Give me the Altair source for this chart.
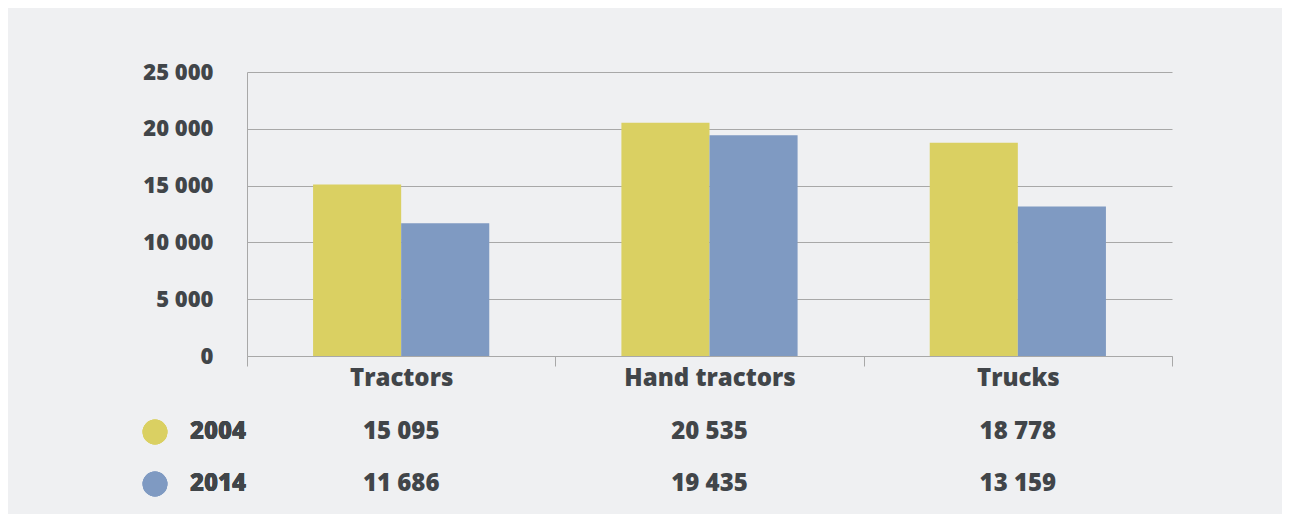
import altair as alt
import pandas as pd

categories = ["Tractors", "Hand tractors", "Trucks"]
years = ["2004", "2014"]
values_2004 = [15095, 20535, 18778]
values_2014 = [11686, 19435, 13159]
y_ticks = [0, 5000, 10000, 15000, 20000, 25000]
colors = ["#dad062", "#7f9ac2"]

rows = []
for c, a, b in zip(categories, values_2004, values_2014):
    rows.append({"category": c, "year": "2004", "value": a})
    rows.append({"category": c, "year": "2014", "value": b})
df = pd.DataFrame(rows)
df["label"] = df["value"].map(lambda v: f"{v:,}".replace(",", " "))

FONT = "Open Sans"
TXT = "#414549"
GRID = "#a8a8a8"
W = 800

color_scale = alt.Scale(domain=years, range=colors)
x_scale = alt.Scale(domain=categories, paddingInner=0, paddingOuter=0)

bars = alt.Chart(df).mark_bar().encode(
    x=alt.X("category:N", scale=x_scale, sort=categories,
            axis=alt.Axis(title=None, labelAngle=0, tickBand="extent", tickSize=10,
                          tickColor=GRID, domainColor=GRID, labelFont=FONT,
                          labelFontSize=24, labelFontWeight=W, labelColor=TXT,
                          labelPadding=0, grid=False)),
    xOffset=alt.XOffset("year:N", scale=alt.Scale(domain=years, paddingOuter=0.75, paddingInner=0)),
    y=alt.Y("value:Q", scale=alt.Scale(domain=[0, 25000]),
            axis=alt.Axis(title=None, values=y_ticks, ticks=False, tickSize=0,
                          labelPadding=34, labelFont=FONT, labelFontSize=22,
                          labelFontWeight=W, labelColor=TXT, gridColor=GRID,
                          domainColor=GRID,
                          labelExpr="replace(format(datum.value, ','), ',', ' ')")),
    color=alt.Color("year:N", scale=color_scale, legend=None),
).properties(width=925, height=284)

base = alt.Chart(df)
values_text = base.mark_text(font=FONT, fontSize=24, fontWeight=W, color=TXT).encode(
    x=alt.X("category:N", scale=x_scale, sort=categories, axis=None),
    y=alt.Y("year:N", sort=years, axis=None),
    text="label:N",
)
dots = base.mark_circle(size=616, opacity=1).encode(
    x=alt.value(-92),
    y=alt.Y("year:N", sort=years, axis=None),
    color=alt.Color("year:N", scale=color_scale, legend=None),
)
year_text = base.mark_text(font=FONT, fontSize=24, fontWeight=W, color=TXT).encode(
    x=alt.value(-29),
    y=alt.Y("year:N", sort=years, axis=None),
    text="year:N",
)
table = alt.layer(values_text, dots, year_text).properties(width=925, height=104)

chart = alt.vconcat(bars, table, spacing=16).properties(
    background="#eff0f2",
    padding={"left": 134, "top": 53, "right": 109, "bottom": 4},
).configure_view(stroke=None)

chart.save("out.html", embed_options={"renderer": "svg", "actions": False})
